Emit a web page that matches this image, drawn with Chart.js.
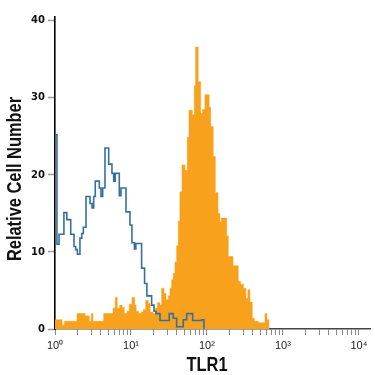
<!DOCTYPE html>
<html>
<head>
<meta charset="utf-8">
<script src="https://cdn.jsdelivr.net/npm/chart.js@4.4.1/dist/chart.umd.min.js"></script>
<style>
    html, body { margin: 0; padding: 0; background: #fff; }
    #wrap { width: 375px; height: 375px; }
</style>
</head>
<body>
<div id="wrap"><canvas id="histChart" width="375" height="375"></canvas></div>
<script>
/* ==========================================================
   TLR1 flow cytometry histogram
   isotype control (outline) vs TLR1 staining (filled)
==========================================================*/

// left edge of each histogram step (fluorescence intensity) and its cell count
const isoEdges = [1, 1.06, 1.13, 1.31, 1.43, 1.61, 1.78, 1.87, 1.97, 2.13, 2.25, 2.36, 2.56, 2.89, 3.07,
    3.23, 3.39, 3.83, 4.03, 4.24, 4.55, 5.09, 5.62, 5.92, 6.21, 7.02, 7.39, 8.60, 9.70, 10.3,
    11.1, 11.6, 13.8, 15.1, 16.2, 18.7, 20.1, 21.3, 24.1, 31.9, 36.0, 39.9, 48.8, 54.1, 64.8,
    85.2, 91.3];
const isoCounts = [25.2, 11.0, 12.3, 15.1, 14.2, 12.3, 10.7, 10.3, 9.7, 11.8, 12.4, 13.2, 17.2, 16.3, 15.7,
    17.2, 19.2, 18.3, 17.2, 18.3, 23.5, 21.4, 20.2, 19.2, 20.2, 17.3, 18.3, 15.2, 13.5, 11.2,
    10.4, 11.1, 7.9, 5.9, 4.3, 3.1, 2.3, 2.0, 1.1, 2.0, 1.4, 0.3, 1.2, 2.0, 1.1,
    1.2, 0];

const tlr1Edges = [1, 1.24, 1.33, 1.95, 2.50, 2.83, 3.00, 3.16, 4.37, 5.80, 6.21, 6.60, 7.10, 7.61, 8.16,
    8.86, 9.50, 10.3, 11.2, 11.7, 12.6, 13.7, 14.5, 15.6, 16.9, 17.9, 19.5, 20.9, 22.2, 24.1,
    25.3, 27.2, 28.9, 31.0, 32.6, 34.3, 36.0, 37.9, 39.9, 41.9, 44.1, 46.9, 51.3, 55.1, 58.0,
    64.1, 68.1, 71.0, 76.8, 82.6, 87.3, 94.1, 107, 112, 121, 129, 140, 148, 155, 182,
    191, 220, 258, 276, 302, 326, 346, 368, 395, 419, 476, 580, 616, 654];
const tlr1Counts = [1.2, 0.5, 1.0, 2.0, 1.7, 1.0, 2.0, 1.0, 2.0, 2.7, 4.1, 2.7, 3.1, 2.8, 2.0,
    2.3, 3.2, 4.1, 3.1, 2.3, 2.0, 2.2, 2.5, 3.7, 3.3, 2.2, 2.0, 2.7, 3.4, 3.1,
    5.3, 4.6, 3.8, 4.3, 5.3, 6.4, 7.2, 8.7, 10.8, 14.0, 17.8, 21.3, 20.6, 24.9, 28.4,
    27.8, 31.6, 36.6, 32.1, 28.0, 28.5, 30.4, 28.8, 26.3, 22.4, 17.7, 15.0, 13.9, 14.4, 12.1,
    9.4, 8.2, 6.2, 5.8, 5.3, 4.0, 5.1, 3.5, 1.4, 1.0, 0.8, 2.0, 1.2, 0];

// axes
const yTicks = [0, 10, 20, 30, 40];
const xDecades = [1, 10, 100, 1000, 10000];
const xDecadeLabels = ["10\u2070", "10\u00b9", "10\u00b2", "10\u00b3", "10\u2074"];
const xTitle = "TLR1";
const yTitle = "Relative Cell Number";

const TICK_FONT = "'DejaVu Sans', sans-serif";
const TITLE_FONT = "'Liberation Sans', Arial, sans-serif";

// =====================================
// Helpers
// =====================================

function toSteps(edges, counts) {
    return edges.map((x, i) => ({ x: x, y: counts[i] }));
}

const xMax = 14000;

const xTickValues = [];
xDecades.forEach(d => {
    for (let m = 1; m <= 9; m++) {
        if (d * m <= xMax) xTickValues.push(d * m);
    }
});

// axis titles drawn by hand: bold, squeezed like a narrow face
const axisTitles = {
    id: "axisTitles",
    afterDraw(chart) {
        const { ctx, chartArea } = chart;
        ctx.save();
        ctx.fillStyle = "#111";
        ctx.font = "bold 20px " + TITLE_FONT;
        ctx.textAlign = "center";
        ctx.textBaseline = "alphabetic";

        ctx.save();
        ctx.translate(chartArea.left + 152, 371);
        ctx.scale(0.82, 1);
        ctx.fillText(xTitle, 0, 0);
        ctx.restore();

        ctx.translate(21, chartArea.top + 162);
        ctx.rotate(-Math.PI / 2);
        ctx.scale(0.82, 1);
        ctx.fillText(yTitle, 0, 0);
        ctx.restore();
    }
};

// =====================================
// Chart
// =====================================

const ctx = document.getElementById("histChart").getContext("2d");

new Chart(ctx, {
    type: "line",
    data: {
        datasets: [
            {
                label: "Isotype",
                data: toSteps(isoEdges, isoCounts),
                borderColor: "#35709f",
                borderWidth: 1.6,
                fill: false,
                stepped: true,
                pointRadius: 0
            },
            {
                label: "TLR1",
                data: toSteps(tlr1Edges, tlr1Counts),
                borderColor: "#f7a11d",
                backgroundColor: "#f7a11d",
                borderWidth: 0.5,
                fill: "origin",
                stepped: true,
                pointRadius: 0
            }
        ]
    },
    options: {
        responsive: false,
        animation: false,
        layout: {
            padding: { top: 17, right: 5, left: 0, bottom: 0 }
        },
        plugins: {
            legend: { display: false },
            tooltip: { enabled: false }
        },
        scales: {
            x: {
                type: "logarithmic",
                min: 1,
                max: xMax,
                z: 1,
                afterBuildTicks(scale) {
                    scale.ticks = xTickValues.map(v => ({ value: v }));
                },
                afterFit(scale) {
                    scale.height = 46;
                },
                border: { display: true, color: "#444", width: 1.5 },
                grid: {
                    drawOnChartArea: false,
                    drawTicks: true,
                    tickLength: 6,
                    tickColor: "#8a8a8a",
                    tickWidth: 1
                },
                ticks: {
                    autoSkip: false,
                    maxRotation: 0,
                    padding: 4,
                    color: "#222",
                    font: { family: "'Liberation Sans', sans-serif", size: 11 },
                    callback(value) {
                        const i = xDecades.indexOf(value);
                        return i >= 0 ? xDecadeLabels[i] : "";
                    }
                }
            },
            y: {
                type: "linear",
                min: 0,
                max: 40.5,
                z: 1,
                afterBuildTicks(scale) {
                    scale.ticks = yTicks.map(v => ({ value: v }));
                },
                afterFit(scale) {
                    scale.width = 55;
                },
                border: { display: true, color: "#000", width: 1.6 },
                grid: {
                    drawOnChartArea: false,
                    drawTicks: true,
                    tickLength: 7,
                    tickColor: "#9a9a9a",
                    tickWidth: 1.5
                },
                ticks: {
                    padding: 3,
                    color: "#111",
                    font: { family: TICK_FONT, size: 10, weight: "bold" }
                }
            }
        }
    },
    plugins: [axisTitles]
});
</script>
</body>
</html>
